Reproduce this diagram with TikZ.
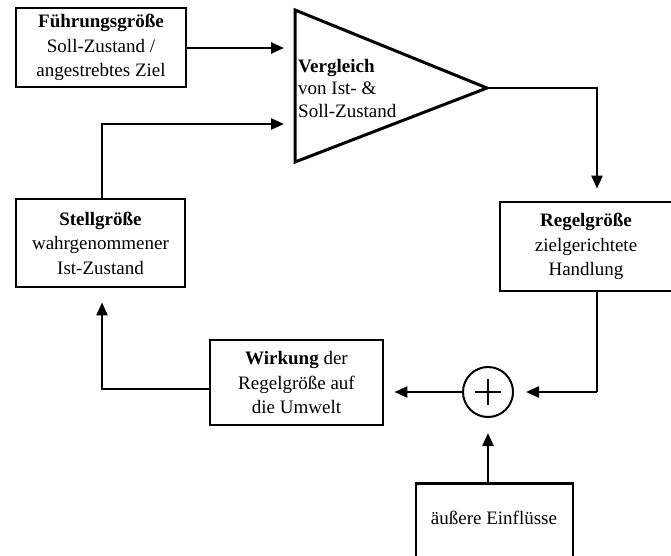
\documentclass[tikz,border=0pt]{standalone}
\usepackage{fontspec}
\setmainfont{Liberation Serif}
\usetikzlibrary{arrows.meta}
\begin{document}
\begin{tikzpicture}[x=1pt,y=-1pt,
  box/.style={draw, line width=2.8pt, align=center, inner sep=0pt,
    font=\fontsize{19}{24.5}\selectfont},
  txt/.style={align=left, inner sep=0pt, font=\fontsize{19}{22.5}\selectfont},
  conn/.style={line width=2.5pt, -{Triangle[length=13pt,width=11pt]}},
  plain/.style={line width=2.5pt}]
\useasboundingbox (0,0) rectangle (671,555);
\clip (0,0) rectangle (671,555);
% boxes
\node[box, minimum width=170pt, minimum height=79pt] (fg) at (101,47.5)
  {\textbf{Führungsgröße}\\Soll-Zustand /\\angestrebtes Ziel};
\node[box, minimum width=169pt, minimum height=88pt] (sg) at (100.5,243)
  {\textbf{Stellgröße}\\wahrgenommener\\Ist-Zustand};
\node[box, minimum width=172pt, minimum height=89pt] (rg) at (586,246.5)
  {\textbf{Regelgröße}\\zielgerichtete\\Handlung};
\node[box, minimum width=173pt, minimum height=85pt] (wk) at (296.5,382.5)
  {\textbf{Wirkung} der\\Regelgröße auf\\die Umwelt};
\node[box, minimum width=157pt, minimum height=120pt, anchor=north] (ext) at (494.5,482) {};
\node[txt] (exttxt) at (494,518) {äußere Einflüsse};
% comparator triangle
\coordinate (tA) at (295,10);
\coordinate (tB) at (295,162);
\coordinate (tC) at (487,88);
\draw[line width=3pt, line join=miter] (tA) -- (tC) -- (tB) -- cycle;
\node[txt, anchor=west] (vg) at (298,88)
  {\textbf{Vergleich}\\von Ist- \&\\Soll-Zustand};
% summing junction
\node[draw, circle, line width=2pt, minimum size=50pt, inner sep=0pt] (sum) at (488,392) {};
\draw[line width=2pt] ([xshift=-13pt]sum.center) -- ([xshift=13pt]sum.center);
\draw[line width=2pt] ([yshift=-13pt]sum.center) -- ([yshift=13pt]sum.center);
% helper coordinates
\coordinate (in1) at (284,48);
\coordinate (in2) at (284,124);
\coordinate (d1) at (597,88);
\coordinate (d2) at (597,392);
\coordinate (wkout) at (210,389);
\coordinate (l1) at (102,389);
\coordinate (l2) at (102,124);
% connectors
\draw[conn] (fg.east |- in1) -- (in1);
\draw[conn, shorten >=12pt] (tC) -- (d1) -- (d1 |- rg.north);
\draw[plain] (rg.south -| d1) -- (d2);
\draw[conn, shorten >=12pt] (d2) -- (sum.east);
\draw[conn, shorten >=10pt] (sum.west) -- (wk.east |- sum.west);
\draw[conn, shorten >=14pt] (wkout) -- (l1) -- (l1 |- sg.south);
\draw[conn] (sg.north -| l2) -- (l2) -- (in2);
\draw[conn, shorten >=15pt] (ext.north -| sum) -- (sum.south);
\end{tikzpicture}
\end{document}
